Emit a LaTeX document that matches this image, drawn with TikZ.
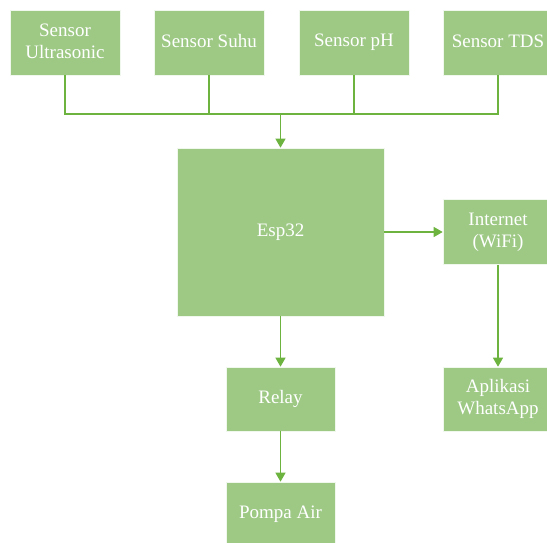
\documentclass[tikz,border=0pt]{standalone}
\usepackage{fontspec}
\setmainfont{Liberation Serif}
\usepackage{xcolor}
\usetikzlibrary{arrows.meta}
\definecolor{boxgreen}{HTML}{9DC985}
\definecolor{linegreen}{HTML}{6DB33F}
\newcommand{\boxstrut}{\rule[-2.5pt]{0pt}{15.5pt}}
\tikzstyle{block} = [draw=white!85!boxgreen, line width=0.6pt, fill=boxgreen,
	text=white, align=center, inner sep=0pt,
	font=\fontsize{19}{22}\selectfont,
	execute at begin node=\boxstrut, execute at end node=\boxstrut]
\tikzstyle{link} = [draw=linegreen, line width=1.2pt]
\tikzstyle{arrow} = [link, -{Triangle[width=10pt,length=9pt]}]

\begin{document}
\begin{tikzpicture}[x=1pt,y=1pt]
	\useasboundingbox (0,0) rectangle (547,542);
	\clip (0,0) rectangle (547,542);
	% sensors
	\node[block, minimum width=110pt, minimum height=65pt] (ultra) at (65,499.5) {Sensor\\Ultrasonic};
	\node[block, minimum width=110pt, minimum height=65pt] (suhu) at (209,499.5) {Sensor Suhu};
	\node[block, minimum width=110pt, minimum height=65pt] (ph) at (354,499.5) {Sensor pH};
	\node[block, minimum width=110pt, minimum height=65pt] (tds) at (498,499.5) {Sensor TDS};
	
	% controller and outputs
	\node[block, minimum width=207pt, minimum height=168pt] (esp) at (280.5,310) {Esp32};
	\node[block, minimum width=110pt, minimum height=65pt] (net) at (498,310) {Internet\\(WiFi)};
	\node[block, minimum width=110pt, minimum height=64pt] (wa) at (498,143) {Aplikasi\\WhatsApp};
	\node[block, minimum width=109pt, minimum height=64pt] (relay) at (280.5,143) {Relay};
	\node[block, minimum width=109pt, minimum height=65pt] (pompa) at (280.5,27.5) {Pompa Air};
	
	\coordinate (bus) at (280.5,428);
	\draw[link] (ultra.south) |- (bus);
	\draw[link] (suhu.south) |- (bus);
	\draw[link] (ph.south) |- (bus);
	\draw[link] (tds.south) |- (bus);
	\draw[arrow] (bus) -- (esp.north);
	\draw[arrow] (esp.east) -- (net.west);
	\draw[arrow] (net.south) -- (wa.north);
	\draw[arrow] (esp.south) -- (relay.north);
	\draw[arrow] (relay.south) -- (pompa.north);
\end{tikzpicture}
\end{document}
